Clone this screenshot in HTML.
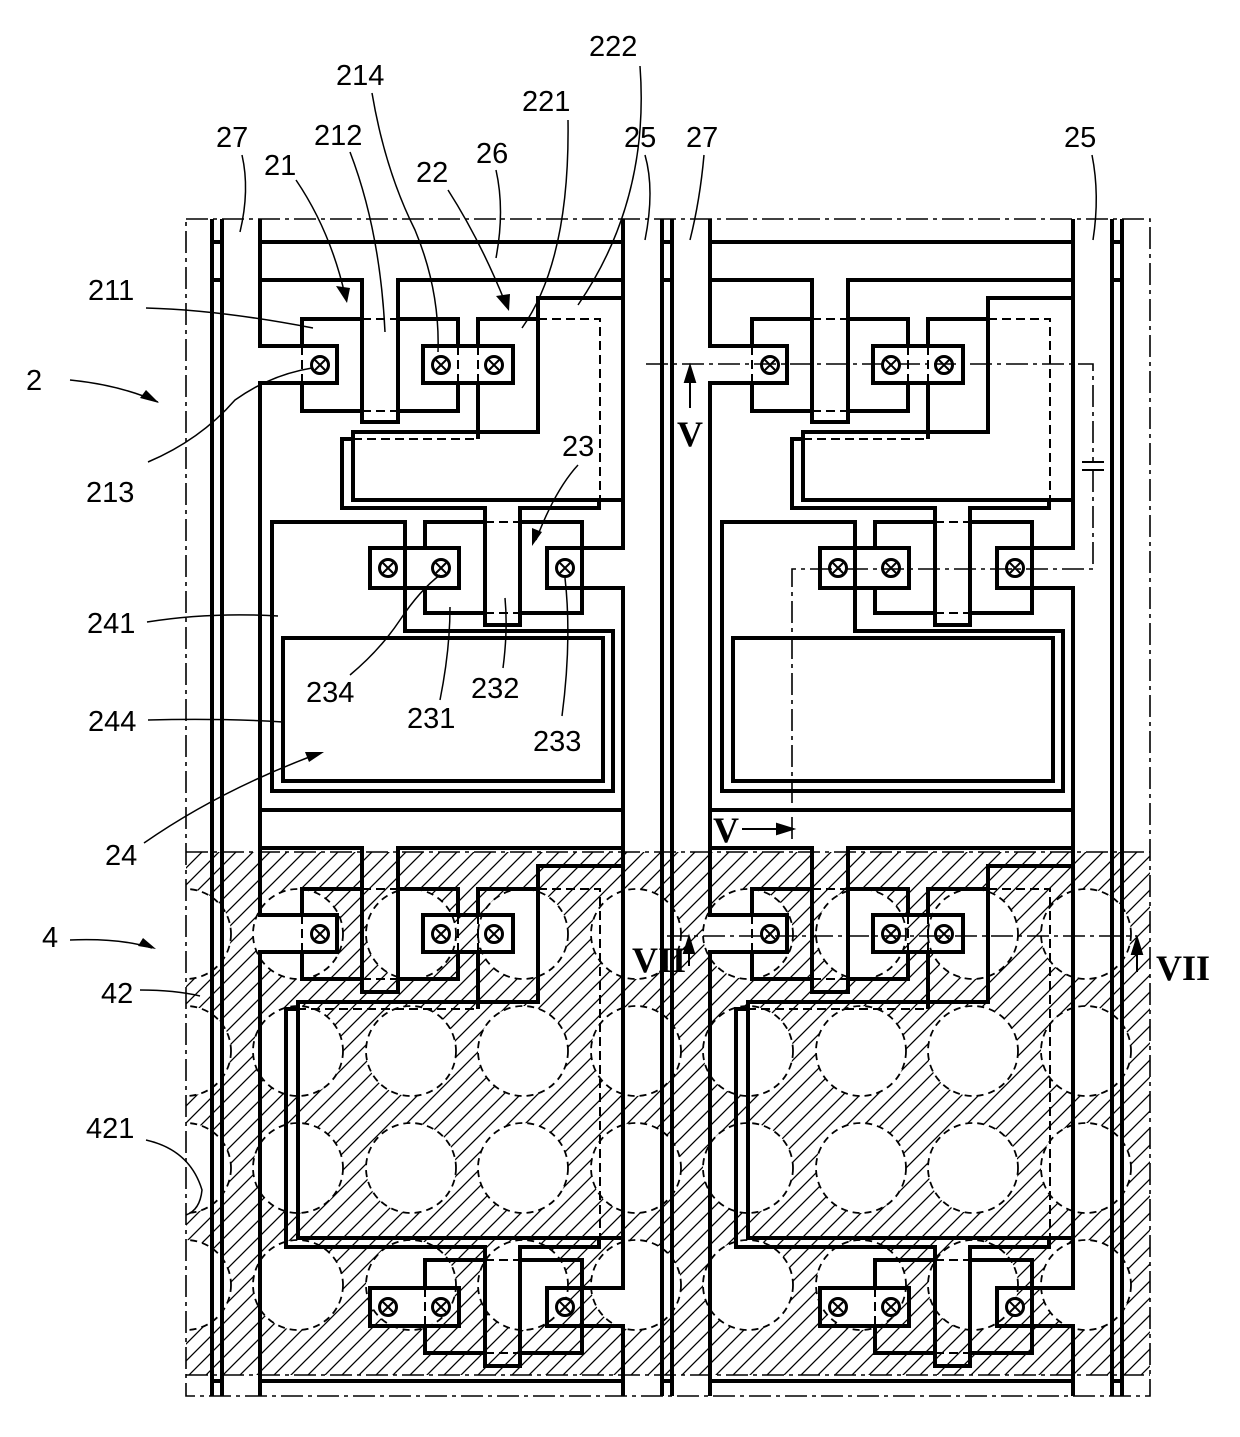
<!DOCTYPE html>
<html><head><meta charset="utf-8"><style>
html,body{margin:0;padding:0;background:#fff}
svg{display:block}
text{font-family:"Liberation Sans",sans-serif;font-size:29px;fill:#000}
.s{font-family:"Liberation Serif",serif;font-weight:bold;font-size:36px}
</style></head><body>
<svg width="1240" height="1437" viewBox="0 0 1240 1437" xmlns="http://www.w3.org/2000/svg">
<defs>
<pattern id="h" patternUnits="userSpaceOnUse" width="17" height="17">
<path d="M-2,19 L19,-2 M-2,2 L2,-2 M15,19 L19,15" stroke="#000" stroke-width="1.3"/>
</pattern>
<clipPath id="hc"><rect x="186" y="852" width="964" height="523"/></clipPath>
<g id="ct"><circle r="8.5" fill="#fff" stroke="#000" stroke-width="3"/><path d="M-5,-5L5,5M5,-5L-5,5" stroke="#000" stroke-width="2"/></g>
<g id="cell" fill="none" stroke="#000" stroke-width="4">
<path d="M212,219V1396M222,219V1396M212,242H222M212,280H222M212,1381H222"/>
<path d="M260,219V346H337V383H260V915H337V952H260V1396"/>
<path d="M623,219V548H582V588H623V1288H582V1326H623V1396"/>
<path d="M260,242H623M260,280H362V422H398V280H623M260,810H623M260,1381H623"/>
<path d="M302,346V319H362M302,383V411H362M398,319H458V346M458,383V411H398"/>
<rect x="423" y="346" width="90" height="37"/>
<path d="M478,346V319H538M478,383V439"/>
<path d="M623,298H538V432H353V500H623"/>
<path d="M353,439H342V508H485V625H520V508H599V500"/>
<path d="M272,791V522H405V631H613V791Z"/>
<rect x="283" y="638" width="320" height="143"/>
<rect x="370" y="548" width="89" height="40"/>
<path d="M425,548V522H485M425,588V613H485M520,522H582V613H520"/>
<rect x="547" y="548" width="35" height="40"/>
<path d="M260,848H362V992H398V848H623"/>
<path d="M302,915V889H362M302,952V979H362M398,889H458V915M458,952V979H398"/>
<rect x="423" y="915" width="90" height="37"/>
<path d="M478,915V889H538M478,952V1009"/>
<path d="M623,866H538V1002H298V1238H623"/>
<path d="M297,1009H286V1247H485V1366H520V1247H599V1238"/>
<rect x="370" y="1288" width="89" height="38"/>
<path d="M425,1288V1260H485M425,1326V1353H485M520,1260H582V1353H520"/>
<rect x="547" y="1288" width="35" height="38"/>
<g stroke-width="2" stroke-dasharray="9,5">
<path d="M362,319H398M362,411H398M538,319H600V500M353,439H478M485,522H520M485,613H520M302,346V383M458,346V383M478,346V383"/>
<path d="M362,889H398M362,979H398M538,889H600V1238M297,1009H478M485,1260H520M485,1353H520M302,915V952M458,915V952M478,915V952M425,1288V1326"/>
</g>
<use href="#ct" x="320" y="365"/><use href="#ct" x="441" y="365"/><use href="#ct" x="494" y="365"/>
<use href="#ct" x="388" y="568"/><use href="#ct" x="441" y="568"/><use href="#ct" x="565" y="568"/>
<use href="#ct" x="320" y="934"/><use href="#ct" x="441" y="934"/><use href="#ct" x="494" y="934"/>
<use href="#ct" x="388" y="1307"/><use href="#ct" x="441" y="1307"/><use href="#ct" x="565" y="1307"/>
</g>
</defs>

<rect x="186" y="852" width="964" height="523" fill="url(#h)"/>
<g clip-path="url(#hc)" fill="#fff" stroke="#000" stroke-width="1.8" stroke-dasharray="7,5">
<g id="row">
<circle cx="186" cy="934" r="45"/><circle cx="298" cy="934" r="45"/><circle cx="411" cy="934" r="45"/><circle cx="523" cy="934" r="45"/><circle cx="636" cy="934" r="45"/><circle cx="748" cy="934" r="45"/><circle cx="861" cy="934" r="45"/><circle cx="973" cy="934" r="45"/><circle cx="1086" cy="934" r="45"/><circle cx="1198" cy="934" r="45"/>
</g>
<use href="#row" y="117"/><use href="#row" y="234"/><use href="#row" y="351"/>
</g>

<g fill="none" stroke="#000" stroke-width="1.6" stroke-dasharray="22,5,4,5">
<rect x="186" y="219" width="964" height="1177"/>
<path d="M186,852H1150M186,1375H1150"/>
</g>

<use href="#cell"/>
<use href="#cell" x="450"/>
<path d="M1112,219V1396M1122,219V1396M1112,242H1122M1112,280H1122M1112,1381H1122" stroke="#000" stroke-width="4" fill="none"/>

<g fill="none" stroke="#000" stroke-width="1.6" stroke-dasharray="22,5,4,5">
<path d="M646,364H1093V462M1093,470V569H792V843"/>
<path d="M667,936H1137"/>
</g>
<path d="M1082,462H1104M1082,470H1104" stroke="#000" stroke-width="2"/>
<g stroke="#000" stroke-width="2" fill="#000">
<path d="M690,408V380"/><path d="M690,366L685,382H695Z"/>
<path d="M742,829H778"/><path d="M793,829L777,824V834Z"/>
<path d="M689,966V950"/><path d="M689,937L684,953H694Z"/>
<path d="M1137,972V952"/><path d="M1137,938L1132,954H1142Z"/>
</g>
<text class="s" x="677" y="446">V</text>
<text class="s" x="713" y="842">V</text>
<text class="s" x="632" y="972">VII</text>
<text class="s" x="1156" y="980">VII</text>

<text x="216" y="147">27</text>
<text x="264" y="175">21</text>
<text x="314" y="145">212</text>
<text x="336" y="85">214</text>
<text x="416" y="182">22</text>
<text x="476" y="163">26</text>
<text x="522" y="111">221</text>
<text x="589" y="56">222</text>
<text x="624" y="147">25</text>
<text x="686" y="147">27</text>
<text x="1064" y="147">25</text>
<text x="88" y="300">211</text>
<text x="26" y="390">2</text>
<text x="86" y="502">213</text>
<text x="562" y="456">23</text>
<text x="87" y="633">241</text>
<text x="306" y="702">234</text>
<text x="407" y="728">231</text>
<text x="471" y="698">232</text>
<text x="533" y="751">233</text>
<text x="88" y="731">244</text>
<text x="105" y="865">24</text>
<text x="42" y="947">4</text>
<text x="101" y="1003">42</text>
<text x="86" y="1138">421</text>

<g fill="none" stroke="#000" stroke-width="1.5">
<path d="M242,155Q250,190 240,232"/>
<path d="M296,180Q330,230 345,295"/>
<path d="M350,152Q380,230 385,332"/>
<path d="M372,93Q385,170 415,230Q440,290 438,352"/>
<path d="M448,190Q480,240 505,302"/>
<path d="M496,170Q505,210 496,258"/>
<path d="M568,120Q570,260 522,328"/>
<path d="M640,66Q650,200 578,305"/>
<path d="M645,155Q655,190 645,240"/>
<path d="M704,155Q700,200 690,240"/>
<path d="M1092,155Q1100,195 1093,240"/>
<path d="M146,308Q220,310 313,328"/>
<path d="M70,380Q120,385 158,402"/>
<path d="M148,462Q200,440 235,400Q270,375 312,368"/>
<path d="M578,465Q555,490 536,540"/>
<path d="M147,622Q210,612 278,616"/>
<path d="M350,675Q380,650 400,620Q420,590 440,575"/>
<path d="M440,700Q450,650 450,607"/>
<path d="M503,668Q508,630 505,598"/>
<path d="M562,716Q572,640 565,578"/>
<path d="M148,720Q220,718 283,722"/>
<path d="M144,843Q220,790 320,753"/>
<path d="M70,940Q120,938 152,948"/>
<path d="M140,990Q175,990 200,996"/>
<path d="M146,1140Q190,1150 202,1190Q200,1210 186,1215"/>
</g>
<g fill="#000">
<path d="M347,303L336,286L350,288Z"/>
<path d="M509,311L496,296L510,294Z"/>
<path d="M159,403L140,398L146,390Z"/>
<path d="M532,546L532,528L542,532Z"/>
<path d="M324,752L305,752L309,762Z"/>
<path d="M156,949L138,946L143,938Z"/>
</g>
</svg>
</body></html>
